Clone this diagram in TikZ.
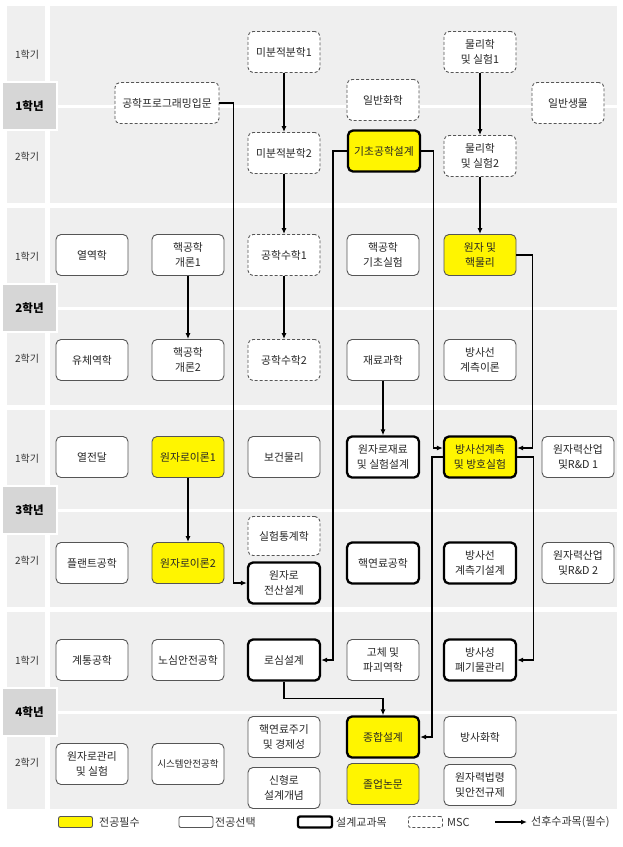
\documentclass[tikz,border=0pt]{standalone}
\usepackage{fontspec}
\setmainfont{Noto Sans CJK KR}
\usetikzlibrary{arrows.meta}

\definecolor{bandgray}{RGB}{239,239,239}
\definecolor{yeargray}{RGB}{214,214,214}
\definecolor{reqyellow}{RGB}{255,245,0}
\definecolor{boxline}{RGB}{85,85,85}

\tikzset{
  course/.style={draw=boxline, line width=0.9pt, rounded corners=5pt, fill=white,
    minimum width=72pt, minimum height=41pt, inner sep=1pt, align=center,
    text=black!85, font=\fontsize{10.8}{15}\selectfont},
  required/.style={fill=reqyellow},
  design/.style={draw=black, line width=2.3pt},
  msc/.style={dash pattern=on 3pt off 2pt},
  prereq/.style={line width=1.3pt, -{Latex[length=6pt,width=5pt]}},
  semlabel/.style={font=\fontsize{10}{11}\selectfont, text=black!80},
  yearlabel/.style={fill=yeargray, draw=white, line width=1.5pt, minimum width=55pt,
    minimum height=48pt, font=\bfseries\fontsize{11.5}{12}\selectfont},
  legbox/.style={course, minimum width=34pt, minimum height=11pt, rounded corners=2pt},
  legtext/.style={anchor=west, inner sep=0pt, text=black!80, font=\fontsize{11}{12}\selectfont}
}

\begin{document}
\begin{tikzpicture}[x=1pt, y=-1pt]
  \useasboundingbox (0,0) rectangle (623,847);

  % Year bands
  \foreach \t/\yr in {6/1,208/2,410/3,612/4}{
    \fill[bandgray] (7,\t) rectangle (45,\t+99);
    \fill[bandgray] (7,\t+102) rectangle (45,\t+197);
    \fill[bandgray] (50,\t) rectangle (617,\t+99);
    \fill[bandgray] (50,\t+102) rectangle (617,\t+197);
    \node[semlabel] (sem\yr-1) at (27,\t+49) {1학기};
    \node[semlabel] (sem\yr-2) at (27,\t+151) {2학기};
    \node[yearlabel] (year\yr) at (29.5,\t+100) {\yr{}학년};
  }

  % 1st year
  \node[course, msc] (calc1) at (284,52) {미분적분학1};
  \node[course, msc] (calc2) at (284,153) {미분적분학2};
  \node[course, msc, minimum width=104pt] (prog) at (167,103) {공학프로그래밍입문};
  \node[course, msc] (chem) at (383,100) {일반화학};
  \node[course, required, design] (intro) at (384,151) {기초공학설계};
  \node[course, msc] (phys1) at (480,52) {물리학\\및 실험1};
  \node[course, msc] (phys2) at (480,156) {물리학\\및 실험2};
  \node[course, msc] (bio) at (568,103) {일반생물};

  % 2nd year
  \node[course] (thermo) at (92,255) {열역학};
  \node[course] (nuc1) at (188,255) {핵공학\\개론1};
  \node[course, msc] (emath1) at (284,255) {공학수학1};
  \node[course] (nuclab) at (383,255) {핵공학\\기초실험};
  \node[course, required] (atom) at (480,255) {원자 및\\핵물리};
  \node[course] (fluid) at (92,360) {유체역학};
  \node[course] (nuc2) at (188,360) {핵공학\\개론2};
  \node[course, msc] (emath2) at (284,360) {공학수학2};
  \node[course] (mat) at (383,360) {재료과학};
  \node[course] (radth) at (480,360) {방사선\\계측이론};

  % 3rd year
  \node[course] (heat) at (92,457) {열전달};
  \node[course, required] (rx1) at (188,457) {원자로이론1};
  \node[course] (hp) at (284,457) {보건물리};
  \node[course, design] (matlab) at (383,457) {원자로재료\\및 실험설계};
  \node[course, required, design] (radlab) at (480,457) {방사선계측\\및 방호실험};
  \node[course] (ind1) at (578,457) {원자력산업\\및R\&D 1};
  \node[course] (plant) at (92,563) {플랜트공학};
  \node[course, required] (rx2) at (188,563) {원자로이론2};
  \node[course, msc, minimum height=39pt] (stat) at (284,536) {실험통계학};
  \node[course, design] (comp) at (284,583) {원자로\\전산설계};
  \node[course, design] (fuel) at (383,563) {핵연료공학};
  \node[course, design] (raddet) at (480,563) {방사선\\계측기설계};
  \node[course] (ind2) at (578,563) {원자력산업\\및R\&D 2};

  % 4th year
  \node[course] (sys) at (92,660) {계통공학};
  \node[course] (safety) at (188,660) {노심안전공학};
  \node[course, design] (core) at (284,660) {로심설계};
  \node[course] (solid) at (383,660) {고체 및\\파괴역학};
  \node[course, design] (waste) at (480,660) {방사성\\폐기물관리};
  \node[course] (opr) at (92,764) {원자로관리\\및 실험};
  \node[course, font=\fontsize{9.5}{12}\selectfont] (syssafe) at (188,764) {시스템안전공학};
  \node[course] (cycle) at (284,737) {핵연료주기\\및 경제성};
  \node[course] (adv) at (284,788) {신형로\\설계개념};
  \node[course, required, design] (capstone) at (383,737) {종합설계};
  \node[course, required] (thesis) at (383,784) {졸업논문};
  \node[course] (radchem) at (480,737) {방사화학};
  \node[course] (law) at (480,785) {원자력법령\\및안전규제};

  % Prerequisites
  \draw[prereq] (calc1) -- (calc2);
  \draw[prereq] (calc2) -- (emath1);
  \draw[prereq] (emath1) -- (emath2);
  \draw[prereq] (phys1) -- (phys2);
  \draw[prereq] (phys2) -- (atom);
  \draw[prereq] (nuc1) -- (nuc2);
  \draw[prereq] (rx1) -- (rx2);
  \draw[prereq] (mat) -- (matlab);
  \draw[prereq] (prog.east) -- ++(14,0) |- (comp.west);
  \draw[prereq] (intro.west) -- ++(-14,0) |- (core.east);
  \draw[prereq] (intro.east) -- ++(12,0) |- ([yshift=9pt]radlab.west);
  \draw[prereq] (atom.east) -- ++(16,0) |- ([yshift=9pt]radlab.east);
  \draw[prereq] (radlab.east) -- ++(16,0) |- (waste.east);
  \draw[prereq] (radlab.west) -- ++(-11,0) |- (capstone.east);
  \draw[prereq] (core.south) -- ++(0,17) -| (capstone.north);

  % Legend
  \node[legbox, required] (legreq) at (75.5,822) {};
  \node[legtext] (legreqtext) at (99,822) {전공필수};
  \node[legbox] (legopt) at (196,822) {};
  \node[legtext] (legopttext) at (215,822) {전공선택};
  \node[legbox, design] (legdes) at (315,822) {};
  \node[legtext] (legdestext) at (336,822) {설계교과목};
  \node[legbox, msc] (legmsc) at (425.5,822) {};
  \node[legtext] (legmsctext) at (447,822) {MSC};
  \coordinate (legarrowA) at (495,822);
  \coordinate (legarrowB) at (527,822);
  \draw[prereq] (legarrowA) -- (legarrowB);
  \node[legtext] (legarrowtext) at (531,822) {선후수과목(필수)};
\end{tikzpicture}
\end{document}
